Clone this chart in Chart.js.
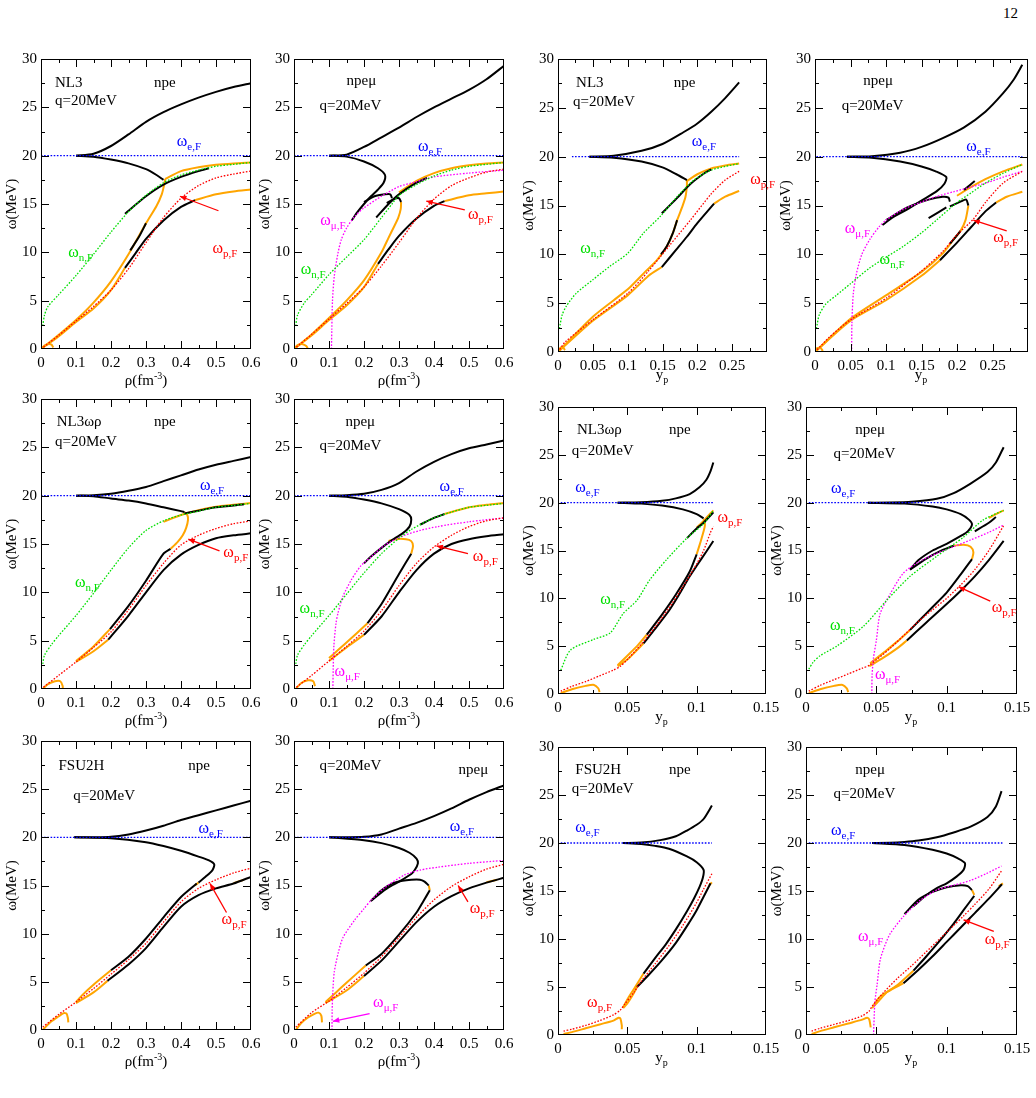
<!DOCTYPE html>
<html><head><meta charset="utf-8">
<script src="https://cdn.jsdelivr.net/npm/chart.js@4.4.1/dist/chart.umd.min.js"></script>
<style>
html,body{margin:0;padding:0;background:#fff;width:1036px;height:1098px;overflow:hidden;position:relative}
canvas{position:absolute}
#pg{position:absolute;left:1003px;top:5px;font:15px "Liberation Serif",serif;color:#000}
</style></head><body>
<div id="pg">12</div>
<script>
// ---------- Panel 1: NL3 npe vs rho ----------
const p1_eF=[[0,20],[0.6,20]];
const p1_nF=[[0.005,2.4],[0.01,3.5],[0.02,4.4],[0.05,5.6],[0.1,7.6],[0.15,9.8],[0.2,12.1],[0.25,14.2],[0.3,15.9],[0.35,17.2],[0.4,18.0],[0.45,18.5],[0.5,18.9],[0.55,19.1],[0.6,19.3]];
const p1_pF=[[0,0],[0.05,1.4],[0.1,2.9],[0.15,4.4],[0.2,6.1],[0.25,8.3],[0.3,11.0],[0.35,13.6],[0.4,15.6],[0.45,16.9],[0.5,17.7],[0.55,18.1],[0.6,18.4]];
const p1_up=[[0.1,20],[0.15,20.2],[0.2,21.0],[0.25,22.2],[0.3,23.5],[0.35,24.5],[0.4,25.3],[0.45,26.0],[0.5,26.6],[0.55,27.1],[0.6,27.5]];
const p1_low=[[0.1,20],[0.15,19.9],[0.2,19.6],[0.25,19.2],[0.3,18.6],[0.33,18.0],[0.35,17.5]];
const p1_midOr=[[0,0],[0.05,1.45],[0.1,3.0],[0.15,4.8],[0.2,7.0],[0.25,9.8],[0.3,13.0],[0.33,14.8],[0.345,16.0],[0.352,17.0],[0.355,17.6]];
const p1_midBk=[[0.255,10.2],[0.28,11.6],[0.3,13.0]];
const p1_lowOr=[[0,0],[0.05,1.3],[0.1,2.8],[0.15,4.2],[0.2,6.1],[0.24,8.4]];
const p1_bot=[[0.24,8.4],[0.27,9.9],[0.3,11.4],[0.35,13.3],[0.4,14.7],[0.44,15.4]];
const p1_botOr=[[0.44,15.4],[0.5,16.0],[0.55,16.3],[0.6,16.5]];
const p1_topBk=[[0.24,14.0],[0.3,15.8],[0.35,17.0],[0.4,17.8],[0.45,18.4],[0.48,18.7]];
const p1_topOr=[[0.355,17.6],[0.4,18.4],[0.45,18.8],[0.5,19.05],[0.55,19.2],[0.6,19.3]];
const p1_arc=[[0,0],[0.01,0.35],[0.02,0.5],[0.03,0.45],[0.035,0.15]];
const p1_txt=[['NL3',0.04,27.5],['npe',0.323,27.5],['q=20MeV',0.04,25.6]];
const p1_om=[['e,F','b',0.388,21.4],['n,F','g',0.078,9.9],['p,F','r',0.49,10.3]];
const p1_arr=[['r',0.507,14.3,0.397,15.8]];

// ---------- Panel 2: NL3 npemu vs rho ----------
const p2_eF=[[0,20],[0.6,20]];
const p2_nF=[[0.005,2.4],[0.01,3.5],[0.03,4.8],[0.05,5.6],[0.1,7.7],[0.15,9.5],[0.2,11.3],[0.25,13.6],[0.28,15.0],[0.3,15.9],[0.35,17.0],[0.4,17.9],[0.45,18.5],[0.5,18.9],[0.55,19.1],[0.6,19.3]];
const p2_pF=[[0,0],[0.05,1.5],[0.1,3.1],[0.15,4.7],[0.2,6.4],[0.25,8.6],[0.3,11.0],[0.35,13.5],[0.4,15.5],[0.45,16.9],[0.5,17.7],[0.55,18.3],[0.6,18.6]];
const p2_muF=[[0.107,0],[0.108,2],[0.11,5],[0.115,7.5],[0.125,9.8],[0.135,11.3],[0.15,12.5],[0.173,13.7],[0.2,14.6],[0.25,15.8],[0.3,16.8],[0.35,17.3],[0.4,17.8],[0.5,18.2],[0.6,18.5]];
const p2_up=[[0.1,20],[0.15,20.1],[0.2,20.9],[0.25,21.9],[0.3,22.9],[0.35,24.0],[0.4,25.0],[0.45,25.9],[0.5,26.8],[0.55,27.9],[0.6,29.3]];
const p2_low=[[0.1,20],[0.15,19.9],[0.2,19.4],[0.24,18.7],[0.26,18.0],[0.256,17.2],[0.24,16.5],[0.22,15.8],[0.2,15.0],[0.18,14.1],[0.165,13.3]];
const p2_loop1=[[0.2,15.2],[0.23,15.8],[0.26,16.0],[0.275,16.0],[0.28,15.6]];
const p2_loop2=[[0.265,15.1],[0.285,15.5],[0.3,15.6],[0.306,15.2]];
const p2_midOr=[[0,0],[0.05,1.5],[0.1,3.2],[0.15,5.0],[0.2,7.1],[0.25,10.0],[0.27,11.5],[0.285,12.6],[0.298,13.6],[0.305,14.5],[0.306,15.2]];
const p2_lowOr=[[0,0],[0.05,1.4],[0.1,3.0],[0.15,4.5],[0.2,6.4],[0.24,8.8]];
const p2_bot=[[0.24,8.8],[0.27,10.3],[0.3,11.7],[0.35,13.5],[0.4,14.8],[0.43,15.3]];
const p2_botOr=[[0.43,15.3],[0.5,15.9],[0.55,16.1],[0.6,16.3]];
const p2_topBk=[[0.235,13.6],[0.27,15.0],[0.3,16.0],[0.35,17.2],[0.38,17.7]];
const p2_topOr=[[0.3,16.2],[0.35,17.4],[0.4,18.2],[0.45,18.7],[0.5,19.0],[0.55,19.2],[0.6,19.3]];
const p2_arc=[[0,0],[0.01,0.4],[0.025,0.5],[0.035,0.3],[0.04,0]];
const p2_txt=[['npeμ',0.15,27.7],['q=20MeV',0.073,25.1]];
const p2_om=[['e,F','b',0.354,20.9],['μ,F','m',0.075,13.2],['n,F','g',0.019,8.2],['p,F','r',0.497,13.9]];
const p2_arr=[['r',0.488,14.4,0.378,15.3]];

// ---------- Panel 3: NL3 npe vs y_p ----------
const p3_eF=[[0.02,20],[0.26,20]];
const p3_nF=[[0.002,2.4],[0.006,3.8],[0.012,4.7],[0.026,6.0],[0.05,7.4],[0.075,8.8],[0.1,10.1],[0.123,12.2],[0.147,13.9],[0.171,15.9],[0.195,17.6],[0.219,18.6],[0.24,19.0],[0.26,19.3]];
const p3_pF=[[0,0],[0.01,1.0],[0.05,3.3],[0.1,6.0],[0.13,8.3],[0.16,10.9],[0.19,13.5],[0.22,16.2],[0.24,17.6],[0.26,18.5]];
const p3_up=[[0.045,20],[0.08,20.1],[0.12,20.6],[0.15,21.3],[0.18,22.5],[0.2,23.4],[0.22,24.6],[0.24,26.0],[0.26,27.6]];
const p3_low=[[0.045,20],[0.08,19.9],[0.12,19.5],[0.15,18.9],[0.17,18.2],[0.185,17.6]];
const p3_midOr=[[0,0],[0.05,3.6],[0.08,5.3],[0.103,6.6],[0.125,8.2],[0.142,9.4],[0.156,10.8],[0.165,12.2],[0.171,13.5],[0.178,14.8],[0.183,15.9],[0.185,17.0],[0.185,17.6]];
const p3_midBk=[[0.148,10.0],[0.156,10.8],[0.165,12.2],[0.171,13.5]];
const p3_lowOr=[[0,0],[0.05,3.2],[0.1,5.8],[0.13,7.8],[0.149,8.7]];
const p3_bot=[[0.149,8.7],[0.17,10.5],[0.185,11.8],[0.2,13.2],[0.224,15.2]];
const p3_botOr=[[0.224,15.2],[0.24,15.9],[0.26,16.5]];
const p3_topBk=[[0.149,14.2],[0.17,15.7],[0.19,17.2],[0.21,18.3],[0.22,18.7]];
const p3_topOr=[[0.185,17.5],[0.2,18.2],[0.22,18.8],[0.24,19.1],[0.26,19.3]];
const p3_arc=[[0,0],[0.003,0.4],[0.007,0.5],[0.01,0.2]];
const p3_txt=[['NL3',0.026,27.5],['npe',0.166,27.5],['q=20MeV',0.0216,25.6]];
const p3_om=[['e,F','b',0.192,21.5],['p,F','r',0.276,17.6],['n,F','g',0.032,10.5]];
const p3_arr=[];

// ---------- Panel 4: NL3 npemu vs y_p ----------
const p4_eF=[[0.002,20],[0.292,20]];
const p4_nF=[[0.002,2.4],[0.006,3.8],[0.015,4.9],[0.03,5.8],[0.05,7.0],[0.077,8.6],[0.1,9.7],[0.124,10.8],[0.15,12.2],[0.171,13.5],[0.2,15.3],[0.22,16.3],[0.24,17.3],[0.265,18.3],[0.292,19.2]];
const p4_pF=[[0,0],[0.02,1.5],[0.05,3.3],[0.1,5.5],[0.15,8.3],[0.18,10.3],[0.2,12.0],[0.223,13.6],[0.241,15.4],[0.265,17.3],[0.292,18.5]];
const p4_muF=[[0.0516,0],[0.052,3],[0.054,6],[0.0586,8.1],[0.066,10.0],[0.077,11.5],[0.09,12.8],[0.1,13.5],[0.124,14.6],[0.148,15.3],[0.17,15.9],[0.195,16.4],[0.22,16.9],[0.241,17.3],[0.265,17.9],[0.292,18.5]];
const p4_up=[[0.045,20],[0.08,20.05],[0.12,20.4],[0.15,21.0],[0.18,21.9],[0.21,23.0],[0.24,24.6],[0.265,26.5],[0.28,27.9],[0.292,29.4]];
const p4_low=[[0.045,20],[0.08,19.9],[0.12,19.5],[0.15,19.0],[0.17,18.5],[0.185,17.9],[0.182,17.2],[0.172,16.5],[0.15,15.5],[0.13,14.6],[0.11,13.8],[0.095,13.0]];
const p4_loop1=[[0.1,13.5],[0.13,14.8],[0.16,15.6],[0.18,15.9],[0.188,15.8],[0.19,15.4]];
const p4_loop2=[[0.19,14.9],[0.205,15.4],[0.213,15.6],[0.216,15.0]];
const p4_midOr=[[0,0],[0.05,3.4],[0.1,5.8],[0.15,8.2],[0.18,10.1],[0.195,11.5],[0.205,12.4],[0.212,13.5],[0.216,15.0]];
const p4_midBk=[[0.19,11.1],[0.195,11.5],[0.205,12.4]];
const p4_lowOr=[[0,0],[0.05,3.2],[0.1,5.3],[0.15,7.8],[0.176,9.4]];
const p4_bot=[[0.176,9.4],[0.2,11.2],[0.22,12.8],[0.24,14.4],[0.255,15.3]];
const p4_botOr=[[0.255,15.3],[0.27,15.9],[0.292,16.4]];
const p4_topBk=[[0.16,13.7],[0.185,14.8]];
const p4_topBk2=[[0.21,16.6],[0.225,17.5]];
const p4_topOr=[[0.2,16.0],[0.22,16.9],[0.24,17.7],[0.265,18.5],[0.292,19.2]];
const p4_arc=[[0,0],[0.003,0.4],[0.008,0.4],[0.011,0.1]];
const p4_txt=[['npeμ',0.068,27.7],['q=20MeV',0.0375,25.2]];
const p4_om=[['e,F','b',0.213,21.0],['μ,F','m',0.042,12.6],['n,F','g',0.091,9.4],['p,F','r',0.251,11.7]];
const p4_arr=[['r',0.27,12.4,0.223,13.5]];

// ---------- Panel 5: NL3wr npe vs rho ----------
const p5_eF=[[0,20],[0.6,20]];
const p5_nF=[[0.005,2.6],[0.01,3.5],[0.03,4.6],[0.05,5.5],[0.1,7.6],[0.15,9.9],[0.2,12.3],[0.25,14.6],[0.3,16.4],[0.35,17.4],[0.4,18.0],[0.45,18.4],[0.5,18.8],[0.55,19.0],[0.6,19.2]];
const p5_pF=[[0,0],[0.05,1.4],[0.1,2.8],[0.15,4.3],[0.2,5.9],[0.25,8.2],[0.3,10.7],[0.35,13.0],[0.4,14.9],[0.45,15.9],[0.5,16.6],[0.55,17.1],[0.6,17.4]];
const p5_up=[[0.1,20],[0.15,20.05],[0.2,20.2],[0.25,20.5],[0.3,20.9],[0.35,21.5],[0.4,22.1],[0.45,22.7],[0.5,23.2],[0.55,23.6],[0.6,24.0]];
const p5_low=[[0.1,20],[0.15,19.95],[0.2,19.7],[0.25,19.5],[0.3,19.2],[0.35,18.8],[0.4,18.4],[0.41,18.3]];
const p5_midOr1=[[0.1,2.9],[0.15,4.4],[0.197,6.2]];
const p5_midBk=[[0.197,6.2],[0.25,8.6],[0.3,11.2],[0.35,14.0],[0.37,14.5]];
const p5_midOr2=[[0.37,14.5],[0.39,15.2],[0.405,15.9],[0.415,16.7],[0.42,17.5],[0.418,18.0],[0.41,18.3]];
const p5_lowOr=[[0.1,2.8],[0.15,3.9],[0.192,5.1]];
const p5_bot=[[0.192,5.1],[0.25,7.6],[0.3,10.0],[0.35,12.3],[0.4,13.9],[0.45,14.9],[0.5,15.6],[0.55,15.9],[0.6,16.1]];
const p5_topOr=[[0.35,17.3],[0.4,18.0],[0.45,18.5],[0.5,18.85],[0.55,19.05],[0.6,19.25]];
const p5_topBk=[[0.41,18.15],[0.45,18.45],[0.5,18.8],[0.58,19.1]];
const p5_arc=[[0.005,0],[0.02,0.5],[0.04,0.8],[0.055,0.8],[0.062,0.3],[0.062,0]];
const p5_txt=[['NL3ωρ',0.045,27.6],['npe',0.323,27.6],['q=20MeV',0.04,25.5]];
const p5_om=[['e,F','b',0.454,21.0],['n,F','g',0.097,11.0],['p,F','r',0.521,14.05]];
const p5_arr=[['r',0.51,14.3,0.421,15.5]];

// ---------- Panel 6: NL3wr npemu vs rho ----------
const p6_eF=[[0,20],[0.6,20]];
const p6_nF=[[0.005,2.6],[0.01,3.5],[0.03,4.6],[0.05,5.5],[0.1,7.6],[0.15,9.8],[0.2,12.0],[0.25,14.0],[0.3,15.6],[0.335,16.5],[0.4,17.7],[0.45,18.3],[0.5,18.8],[0.55,19.0],[0.6,19.2]];
const p6_pF=[[0,0],[0.05,1.4],[0.1,2.9],[0.15,4.4],[0.2,6.0],[0.25,8.1],[0.3,10.7],[0.35,13.0],[0.4,14.7],[0.45,15.9],[0.5,16.8],[0.55,17.4],[0.6,17.7]];
const p6_muF=[[0.111,0],[0.112,2],[0.114,4.5],[0.12,6.8],[0.126,7.9],[0.14,9.6],[0.164,11.3],[0.19,12.7],[0.221,13.7],[0.26,14.9],[0.316,15.9],[0.36,16.4],[0.41,16.8],[0.5,17.3],[0.6,17.7]];
const p6_up=[[0.1,20],[0.15,20.05],[0.2,20.2],[0.25,20.6],[0.3,21.3],[0.35,22.5],[0.4,23.5],[0.45,24.3],[0.5,24.9],[0.55,25.3],[0.6,25.7]];
const p6_low=[[0.1,20],[0.15,19.9],[0.2,19.6],[0.25,19.2],[0.3,18.6],[0.33,18.0],[0.335,17.5],[0.33,16.8],[0.31,16.1],[0.28,15.4],[0.25,14.6],[0.22,13.7],[0.2,13.0]];
const p6_midOr1=[[0.1,3.2],[0.15,4.8],[0.21,6.8]];
const p6_midBk=[[0.21,6.8],[0.25,8.8],[0.3,11.9],[0.335,14.0]];
const p6_midOr2=[[0.335,14.0],[0.34,14.8],[0.335,15.3],[0.32,15.5],[0.29,15.5],[0.27,15.3]];
const p6_lowOr=[[0.1,2.9],[0.15,4.3],[0.2,5.6]];
const p6_bot=[[0.2,5.6],[0.25,7.5],[0.3,10.0],[0.35,12.3],[0.4,14.0],[0.45,15.0],[0.5,15.5],[0.55,15.8],[0.6,16.0]];
const p6_topBk=[[0.36,17.0],[0.4,17.7],[0.43,18.1]];
const p6_topOr=[[0.43,18.1],[0.5,18.8],[0.55,19.05],[0.6,19.25]];
const p6_arc=[[0.005,0],[0.02,0.6],[0.04,0.9],[0.055,0.8],[0.06,0.3]];
const p6_txt=[['npeμ',0.147,27.6],['q=20MeV',0.073,25.1]];
const p6_om=[['e,F','b',0.416,20.9],['n,F','g',0.016,8.3],['μ,F','m',0.116,1.8],['p,F','r',0.511,13.7]];
const p6_arr=[['r',0.497,14.0,0.407,14.8]];

// ---------- Panel 7: NL3wr npe vs y_p ----------
const p7_eF=[[0.002,20],[0.112,20]];
const p7_nF=[[0.002,2.5],[0.009,4.6],[0.0257,5.7],[0.0377,6.4],[0.047,8.4],[0.057,9.8],[0.066,11.9],[0.078,14.0],[0.093,16.3],[0.105,17.8],[0.112,19.2]];
const p7_pF=[[0.002,0.3],[0.01,0.8],[0.02,1.3],[0.03,1.9],[0.04,2.5],[0.045,2.9],[0.05,3.6],[0.06,5.2],[0.07,7.0],[0.08,9.0],[0.09,11.2],[0.1,13.6],[0.105,15.0],[0.11,16.9],[0.112,17.5]];
const p7_up=[[0.043,20],[0.06,20.05],[0.075,20.2],[0.085,20.45],[0.095,20.9],[0.102,21.6],[0.107,22.4],[0.11,23.3],[0.112,24.2]];
const p7_low=[[0.043,20],[0.06,19.9],[0.075,19.7],[0.09,19.3],[0.1,18.8],[0.105,18.35]];
const p7_midOr1=[[0.043,3.0],[0.05,4.0],[0.057,5.0],[0.064,6.2]];
const p7_midBk=[[0.064,6.2],[0.075,8.3],[0.085,10.4],[0.095,12.8],[0.1,14.6]];
const p7_midOr2=[[0.1,14.6],[0.103,16.0],[0.105,17.0],[0.106,17.7],[0.105,18.3]];
const p7_lowOr=[[0.043,2.9],[0.05,3.6],[0.055,4.3],[0.0617,5.3]];
const p7_bot=[[0.0617,5.3],[0.07,6.8],[0.08,8.7],[0.0857,10.0],[0.095,12.3],[0.1,13.4],[0.107,14.9],[0.112,16.0]];
const p7_topBk=[[0.093,16.3],[0.1,17.3],[0.105,17.9],[0.112,19.0]];
const p7_topOr=[[0.1,17.4],[0.105,18.1],[0.112,19.2]];
const p7_arc=[[0.002,0.1],[0.01,0.5],[0.02,0.85],[0.026,0.95],[0.029,0.6],[0.03,0.2]];
const p7_txt=[['NL3ωρ',0.0137,27.6],['npe',0.08,27.6],['q=20MeV',0.01,25.4]];
const p7_om=[['e,F','b',0.0125,21.5],['p,F','r',0.115,18.35],['n,F','g',0.0305,9.8]];
const p7_arr=[];

// ---------- Panel 8: NL3wr npemu vs y_p ----------
const p8_eF=[[0.002,20],[0.1405,20]];
const p8_nF=[[0.002,2.6],[0.005,3.3],[0.01,4.0],[0.0218,5.0],[0.041,7.1],[0.0574,9.8],[0.074,12.3],[0.093,14.4],[0.112,16.4],[0.126,18.2],[0.1405,19.2]];
const p8_pF=[[0.002,0.3],[0.01,0.9],[0.02,1.5],[0.03,2.1],[0.04,2.7],[0.045,3.0],[0.06,4.8],[0.07,6.2],[0.08,7.6],[0.09,8.8],[0.1,10.0],[0.11,11.4],[0.12,13.0],[0.13,15.0],[0.1405,17.6]];
const p8_muF=[[0.0468,0],[0.047,2],[0.048,3.8],[0.05,5.6],[0.0527,8.4],[0.06,10.5],[0.069,12.6],[0.08,13.8],[0.093,14.7],[0.105,15.4],[0.117,16.1],[0.13,16.9],[0.1405,17.66]];
const p8_up=[[0.044,20],[0.06,20.02],[0.075,20.1],[0.093,20.4],[0.105,21.0],[0.117,22.0],[0.129,23.2],[0.135,24.2],[0.1405,25.8]];
const p8_low=[[0.044,20],[0.07,19.9],[0.09,19.6],[0.1,19.3],[0.11,18.8],[0.116,18.2],[0.118,17.7],[0.115,17.0],[0.111,16.6],[0.1,15.7],[0.09,15.0],[0.08,14.0],[0.074,13.0]];
const p8_loop=[[0.074,13.0],[0.085,14.1],[0.095,14.9],[0.105,15.5]];
const p8_loopOr=[[0.105,15.5],[0.112,15.6],[0.117,15.4],[0.119,14.8],[0.118,14.1]];
const p8_midBk=[[0.118,14.1],[0.11,12.5],[0.1,10.6],[0.09,9.1],[0.08,7.6],[0.074,6.7]];
const p8_midOr=[[0.074,6.7],[0.065,5.5],[0.055,4.3],[0.0456,3.2]];
const p8_lowOr=[[0.045,2.9],[0.055,3.8],[0.065,4.8],[0.0717,5.6]];
const p8_bot=[[0.0717,5.6],[0.085,7.4],[0.1,9.4],[0.11,10.8],[0.12,12.3],[0.13,14.0],[0.1405,16.0]];
const p8_topBk=[[0.12,17.0],[0.13,17.9],[0.135,18.5]];
const p8_topOr=[[0.13,18.4],[0.135,18.8],[0.1405,19.2]];
const p8_arc=[[0.002,0.1],[0.01,0.5],[0.02,0.85],[0.026,0.95],[0.029,0.6],[0.03,0.2]];
const p8_txt=[['npeμ',0.035,27.6],['q=20MeV',0.0195,25.1]];
const p8_om=[['e,F','b',0.0178,21.4],['n,F','g',0.017,7.1],['μ,F','m',0.049,2.0],['p,F','r',0.132,9.0]];
const p8_arr=[['r',0.131,9.7,0.1085,11.2]];

// ---------- Panel 9: FSU2H npe vs rho ----------
const p9_eF=[[0,20],[0.6,20]];
const p9_pF=[[0.005,0.3],[0.05,1.6],[0.1,2.9],[0.15,4.3],[0.2,5.8],[0.25,7.3],[0.3,9.0],[0.35,11.2],[0.4,13.3],[0.45,14.7],[0.5,15.6],[0.55,16.3],[0.6,16.8]];
const p9_up=[[0.095,20],[0.15,20.0],[0.2,20.05],[0.25,20.3],[0.3,20.7],[0.35,21.2],[0.4,21.8],[0.45,22.3],[0.5,22.8],[0.55,23.3],[0.6,23.8]];
const p9_low=[[0.095,20],[0.2,19.9],[0.3,19.5],[0.35,19.1],[0.4,18.6],[0.45,18.0],[0.48,17.6],[0.495,17.2],[0.49,16.6],[0.47,15.9],[0.45,15.3]];
const p9_midBk=[[0.445,15.2],[0.4,13.8],[0.35,11.7],[0.3,9.5],[0.25,7.6],[0.2,6.2]];
const p9_midOr1=[[0.1,2.9],[0.12,3.7],[0.15,4.7],[0.2,6.2]];
const p9_midOr2=[[0.45,15.3],[0.44,15.0]];
const p9_lowOr=[[0.1,2.8],[0.15,3.9],[0.19,5.1]];
const p9_bot=[[0.19,5.1],[0.25,6.8],[0.3,8.5],[0.35,10.7],[0.4,12.8],[0.45,14.0],[0.5,14.7],[0.55,15.2],[0.6,15.9]];
const p9_botOr=[[0.55,15.25],[0.58,15.6]];
const p9_arc=[[0.005,0],[0.01,0.2],[0.03,0.9],[0.05,1.4],[0.065,1.75],[0.073,1.7],[0.077,1.2],[0.078,0.8]];
const p9_txt=[['FSU2H',0.05,27.4],['npe',0.421,27.4],['q=20MeV',0.092,24.3]];
const p9_om=[['e,F','b',0.45,20.9],['p,F','r',0.516,11.4]];
const p9_arr=[['r',0.53,12.2,0.483,15.2]];

// ---------- Panel 10: FSU2H npemu vs rho ----------
const p10_eF=[[0,20],[0.6,20]];
const p10_pF=[[0.005,0.3],[0.05,1.8],[0.1,3.0],[0.15,4.4],[0.2,5.9],[0.25,7.6],[0.3,9.6],[0.35,11.7],[0.4,13.5],[0.45,14.9],[0.5,15.9],[0.55,16.7],[0.6,17.2]];
const p10_muF=[[0.1086,0],[0.109,2],[0.111,4],[0.115,6],[0.126,7.95],[0.14,9.6],[0.173,11.4],[0.2,12.6],[0.221,13.5],[0.26,14.8],[0.316,16.1],[0.36,16.6],[0.411,16.9],[0.5,17.3],[0.6,17.6]];
const p10_up=[[0.1,20],[0.15,20.0],[0.2,20.05],[0.25,20.3],[0.3,20.9],[0.35,21.5],[0.4,22.2],[0.45,23.0],[0.5,23.9],[0.55,24.7],[0.6,25.4]];
const p10_low=[[0.1,20],[0.2,19.7],[0.25,19.4],[0.3,18.9],[0.33,18.4],[0.35,17.8],[0.354,17.3],[0.345,16.6],[0.335,16.2],[0.3,15.4],[0.27,14.8],[0.24,14.0],[0.22,13.4]];
const p10_loop=[[0.22,13.4],[0.25,14.5],[0.28,15.2],[0.31,15.5],[0.335,15.6],[0.36,15.6],[0.373,15.4],[0.385,15.0]];
const p10_loopOr=[[0.385,15.0],[0.388,14.5]];
const p10_midBk=[[0.388,14.5],[0.37,13.4],[0.35,12.2],[0.3,9.9],[0.25,7.9],[0.205,6.7]];
const p10_midOr1=[[0.09,2.9],[0.12,3.9],[0.15,4.9],[0.205,6.7]];
const p10_lowOr=[[0.09,2.8],[0.15,4.1],[0.2,5.6]];
const p10_bot=[[0.2,5.6],[0.25,7.2],[0.3,9.2],[0.35,11.2],[0.4,12.8],[0.45,13.9],[0.5,14.7],[0.55,15.3],[0.6,15.8]];
const p10_botOr=[[0.55,15.35],[0.58,15.6]];
const p10_arc=[[0.005,0],[0.02,0.7],[0.04,1.3],[0.06,1.7],[0.07,1.8],[0.078,1.5],[0.08,0.8]];
const p10_txt=[['q=20MeV',0.073,27.4],['npeμ',0.47,27.0]];
const p10_om=[['e,F','b',0.445,21.1],['p,F','r',0.502,12.6],['μ,F','m',0.226,2.8]];
const p10_arr=[['r',0.497,13.3,0.469,15.0],['m',0.216,1.7,0.111,0.9]];

// ---------- Panel 11: FSU2H npe vs y_p ----------
const p11_eF=[[0.002,20],[0.111,20]];
const p11_pF=[[0.004,0.4],[0.01,0.6],[0.02,1.0],[0.03,1.5],[0.04,2.1],[0.045,2.6],[0.048,3.2],[0.055,4.5],[0.06,5.6],[0.07,7.4],[0.08,9.3],[0.09,11.4],[0.1,13.8],[0.105,15.2],[0.111,16.8]];
const p11_up=[[0.047,20],[0.06,20.05],[0.0737,20.3],[0.085,20.7],[0.093,21.3],[0.1,21.9],[0.105,22.5],[0.111,23.9]];
const p11_low=[[0.047,20],[0.06,19.9],[0.07,19.7],[0.08,19.4],[0.093,18.6],[0.1,18.0],[0.105,17.2],[0.1045,16.4],[0.102,15.4],[0.098,14.2],[0.093,12.9],[0.085,11.0],[0.078,9.5],[0.07,8.0],[0.0617,6.4]];
const p11_midOr=[[0.0617,6.4],[0.057,5.3],[0.053,4.4],[0.05,3.7],[0.047,2.9]];
const p11_lowOr=[[0.047,2.8],[0.05,3.3],[0.054,4.2],[0.057,5.0]];
const p11_bot=[[0.057,5.0],[0.065,6.2],[0.075,7.8],[0.085,9.6],[0.095,11.8],[0.1,13.0],[0.105,14.4],[0.11,15.8]];
const p11_tipOr=[[0.109,15.6],[0.111,15.9]];
const p11_arc=[[0.004,0.1],[0.01,0.3],[0.02,0.7],[0.03,1.1],[0.04,1.5],[0.0437,1.8],[0.045,1.7],[0.046,1.0],[0.046,0.6]];
const p11_txt=[['FSU2H',0.0125,27.6],['npe',0.08,27.6],['q=20MeV',0.01,25.6]];
const p11_om=[['e,F','b',0.0125,21.55],['p,F','r',0.021,3.3]];
const p11_arr=[];

// ---------- Panel 12: FSU2H npemu vs y_p ----------
const p12_eF=[[0.002,20],[0.14,20]];
const p12_pF=[[0.004,0.4],[0.01,0.7],[0.02,1.1],[0.03,1.5],[0.04,2.0],[0.045,2.5],[0.047,3.0],[0.055,4.4],[0.065,5.9],[0.075,7.2],[0.085,8.6],[0.095,10.0],[0.105,11.4],[0.112,12.4],[0.12,13.6],[0.13,15.2],[0.139,17.1]];
const p12_muF=[[0.048,0],[0.0485,2],[0.049,3.5],[0.0505,5.2],[0.0527,7.8],[0.056,9.3],[0.06,10.6],[0.069,12.3],[0.081,14.0],[0.093,15.1],[0.105,15.6],[0.117,16.1],[0.128,16.8],[0.139,17.6]];
const p12_up=[[0.047,20],[0.06,20.02],[0.07,20.1],[0.08,20.25],[0.093,20.6],[0.105,21.1],[0.117,21.7],[0.129,22.7],[0.135,23.8],[0.139,25.4]];
const p12_low=[[0.047,20],[0.07,19.8],[0.09,19.3],[0.1,18.9],[0.108,18.4],[0.113,17.9],[0.112,17.2],[0.107,16.5],[0.1,15.8],[0.093,15.3],[0.085,14.5],[0.0764,13.4]];
const p12_loop=[[0.07,12.6],[0.08,14.1],[0.09,14.9],[0.1,15.4],[0.11,15.6],[0.115,15.5],[0.118,15.1]];
const p12_loopOr=[[0.118,15.1],[0.1196,14.6]];
const p12_midBk=[[0.1196,14.5],[0.112,13.0],[0.105,11.6],[0.095,9.8],[0.085,8.1],[0.0764,6.7]];
const p12_midOr=[[0.0764,6.7],[0.065,5.2],[0.0527,4.0],[0.048,3.1]];
const p12_lowOr=[[0.047,2.8],[0.052,3.6],[0.058,4.5],[0.0693,5.4]];
const p12_bot=[[0.0693,5.4],[0.08,6.8],[0.09,8.2],[0.1,9.7],[0.11,11.2],[0.12,12.7],[0.13,14.2],[0.1393,15.7]];
const p12_botOr=[[0.137,15.5],[0.14,15.8]];
const p12_arc=[[0.004,0.1],[0.01,0.4],[0.02,0.8],[0.03,1.2],[0.04,1.6],[0.0435,1.8],[0.045,1.6],[0.046,0.8]];
const p12_txt=[['npeμ',0.035,27.6],['q=20MeV',0.0195,25.1]];
const p12_om=[['e,F','b',0.0178,21.2],['μ,F','m',0.037,10.2],['p,F','r',0.127,9.9]];
const p12_arr=[['r',0.1335,10.8,0.112,12.0]];

// ---------- axis tick settings: [min, max, major, minor] ----------
const yTicks=[0,30,5,2.5];
const rhoTicks=[0,0.6,0.1,0.05];
const yp3Ticks=[0,0.3,0.05,0.025];
const yp15Ticks=[0,0.15,0.05,0.025];

const COL={k:'#000000',o:'#FFA500',b:'#0000FF',g:'#00E000',r:'#FF0000',m:'#FF00FF'};
const FONT='"Liberation Serif","Times New Roman",serif';

const PANELS=[
 {box:[41,59,251,349],xt:rhoTicks,xl:'rho',S:[['b',p1_eF],['g',p1_nF],['r',p1_pF],['k',p1_up],['k',p1_low],['k',p1_midBk],['k',p1_bot],['k',p1_topBk],['o',p1_midOr],['o',p1_lowOr],['o',p1_botOr],['o',p1_topOr],['o',p1_arc]],T:p1_txt,W:p1_om,A:p1_arr},
 {box:[294,59,504,349],xt:rhoTicks,xl:'rho',S:[['b',p2_eF],['g',p2_nF],['r',p2_pF],['m',p2_muF],['k',p2_up],['k',p2_low],['k',p2_loop1],['k',p2_loop2],['k',p2_bot],['k',p2_topBk],['o',p2_midOr],['o',p2_lowOr],['o',p2_botOr],['o',p2_topOr],['o',p2_arc]],T:p2_txt,W:p2_om,A:p2_arr},
 {box:[558,59,767,352],xt:yp3Ticks,hide:0.3,xl:'yp',S:[['b',p3_eF],['g',p3_nF],['r',p3_pF],['k',p3_up],['k',p3_low],['k',p3_midBk],['k',p3_bot],['k',p3_topBk],['o',p3_midOr],['o',p3_lowOr],['o',p3_botOr],['o',p3_topOr],['o',p3_arc]],T:p3_txt,W:p3_om,A:p3_arr},
 {box:[815,59,1028,352],xt:yp3Ticks,hide:0.3,xl:'yp',S:[['b',p4_eF],['g',p4_nF],['r',p4_pF],['m',p4_muF],['k',p4_up],['k',p4_low],['k',p4_loop1],['k',p4_loop2],['k',p4_midBk],['k',p4_bot],['k',p4_topBk],['k',p4_topBk2],['o',p4_midOr],['o',p4_lowOr],['o',p4_botOr],['o',p4_topOr],['o',p4_arc]],T:p4_txt,W:p4_om,A:p4_arr},
 {box:[41,399,251,689],xt:rhoTicks,xl:'rho',S:[['b',p5_eF],['g',p5_nF],['r',p5_pF],['k',p5_up],['k',p5_low],['k',p5_midBk],['k',p5_bot],['k',p5_topBk],['o',p5_midOr1],['o',p5_midOr2],['o',p5_lowOr],['o',p5_topOr],['o',p5_arc]],T:p5_txt,W:p5_om,A:p5_arr},
 {box:[294,399,504,689],xt:rhoTicks,xl:'rho',S:[['b',p6_eF],['g',p6_nF],['r',p6_pF],['m',p6_muF],['k',p6_up],['k',p6_low],['k',p6_midBk],['k',p6_bot],['k',p6_topBk],['o',p6_midOr1],['o',p6_midOr2],['o',p6_lowOr],['o',p6_topOr],['o',p6_arc]],T:p6_txt,W:p6_om,A:p6_arr},
 {box:[558,407,766,694],xt:yp15Ticks,xl:'yp',S:[['b',p7_eF],['g',p7_nF],['r',p7_pF],['k',p7_up],['k',p7_low],['k',p7_midBk],['k',p7_bot],['k',p7_topBk],['o',p7_midOr1],['o',p7_midOr2],['o',p7_lowOr],['o',p7_topOr],['o',p7_arc]],T:p7_txt,W:p7_om,A:p7_arr},
 {box:[806,407,1017,694],xt:yp15Ticks,xl:'yp',S:[['b',p8_eF],['g',p8_nF],['r',p8_pF],['m',p8_muF],['k',p8_up],['k',p8_low],['k',p8_loop],['k',p8_midBk],['k',p8_bot],['k',p8_topBk],['o',p8_loopOr],['o',p8_midOr],['o',p8_lowOr],['o',p8_topOr],['o',p8_arc]],T:p8_txt,W:p8_om,A:p8_arr},
 {box:[41,741,251,1030],xt:rhoTicks,xl:'rho',S:[['b',p9_eF],['r',p9_pF],['k',p9_up],['k',p9_low],['k',p9_midBk],['k',p9_bot],['o',p9_midOr1],['o',p9_midOr2],['o',p9_lowOr],['o',p9_botOr],['o',p9_arc]],T:p9_txt,W:p9_om,A:p9_arr},
 {box:[294,741,504,1030],xt:rhoTicks,xl:'rho',S:[['b',p10_eF],['r',p10_pF],['m',p10_muF],['k',p10_up],['k',p10_low],['k',p10_loop],['k',p10_midBk],['k',p10_bot],['o',p10_loopOr],['o',p10_midOr1],['o',p10_lowOr],['o',p10_botOr],['o',p10_arc]],T:p10_txt,W:p10_om,A:p10_arr},
 {box:[558,747,766,1035],xt:yp15Ticks,xl:'yp',S:[['b',p11_eF],['r',p11_pF],['k',p11_up],['k',p11_low],['k',p11_bot],['o',p11_midOr],['o',p11_lowOr],['o',p11_tipOr],['o',p11_arc]],T:p11_txt,W:p11_om,A:p11_arr},
 {box:[806,747,1017,1035],xt:yp15Ticks,xl:'yp',S:[['b',p12_eF],['r',p12_pF],['m',p12_muF],['k',p12_up],['k',p12_low],['k',p12_loop],['k',p12_midBk],['k',p12_bot],['o',p12_loopOr],['o',p12_midOr],['o',p12_lowOr],['o',p12_botOr],['o',p12_arc]],T:p12_txt,W:p12_om,A:p12_arr}
];

function styleFor(k){
  const dotted=(k==='b'||k==='g'||k==='r'||k==='m');
  return {borderColor:COL[k],backgroundColor:COL[k],borderWidth:dotted?1.3:2,
    borderDash:dotted?[1.6,1.6]:[],order:dotted?1:(k==='k'?2:3),
    showLine:true,pointRadius:0,pointHoverRadius:0,tension:0.25,fill:false};
}

function panelPlugin(P){
  return {id:'panelDeco',afterDraw(chart){
    const ctx=chart.ctx,a=chart.chartArea,sx=chart.scales.x,sy=chart.scales.y;
    ctx.save();
    ctx.setLineDash([]);
    ctx.globalAlpha=1;
    ctx.globalCompositeOperation='source-over';
    // frame and ticks drawn as filled rectangles
    ctx.fillStyle='#000000';
    const Lx=Math.round(a.left),Rx=Math.round(a.right),Ty=Math.round(a.top),By=Math.round(a.bottom);
    ctx.fillRect(Lx,Ty,Rx-Lx,1);
    ctx.fillRect(Lx,By-1,Rx-Lx,1);
    ctx.fillRect(Lx,Ty,1,By-Ty);
    ctx.fillRect(Rx-1,Ty,1,By-Ty);
    const [x0,x1,xM,xm]=P.xt;
    const nx=Math.round((x1-x0)/xm);
    for(let i=0;i<=nx;i++){
      const v=x0+i*xm, maj=Math.abs(v/xM-Math.round(v/xM))<1e-6, tl=maj?8:4;
      let px=Math.round(sx.getPixelForValue(v));
      if(px>=Rx) px=Rx-1;
      ctx.fillRect(px,By-tl,1,tl);
      ctx.fillRect(px,Ty,1,tl);
    }
    const [y0,y1,yM,ym]=yTicks;
    const ny=Math.round((y1-y0)/ym);
    for(let i=0;i<=ny;i++){
      const v=y0+i*ym, maj=Math.abs(v/yM-Math.round(v/yM))<1e-6, tl=maj?8:4;
      let py=Math.round(sy.getPixelForValue(v));
      if(py>=By) py=By-1;
      ctx.fillRect(Lx,py,tl,1);
      ctx.fillRect(Rx-tl,py,tl,1);
    }
    // plain text labels
    ctx.fillStyle='#000';ctx.textBaseline='middle';ctx.textAlign='left';
    ctx.font='15px '+FONT;
    P.T.forEach(t=>ctx.fillText(t[0],sx.getPixelForValue(t[1]),sy.getPixelForValue(t[2])));
    // omega labels
    P.W.forEach(w=>{
      const px=sx.getPixelForValue(w[2]),py=sy.getPixelForValue(w[3]);
      ctx.fillStyle=COL[w[1]];ctx.textBaseline='alphabetic';
      ctx.font='16px '+FONT;ctx.fillText('ω',px,py+4);
      const ww=ctx.measureText('ω').width;
      ctx.font='11px '+FONT;ctx.fillText(w[0],px+ww,py+8);
    });
    // arrows
    P.A.forEach(r=>{
      const xa=sx.getPixelForValue(r[1]),ya=sy.getPixelForValue(r[2]);
      const xb=sx.getPixelForValue(r[3]),yb=sy.getPixelForValue(r[4]);
      ctx.strokeStyle=COL[r[0]];ctx.fillStyle=COL[r[0]];ctx.lineWidth=1.3;
      ctx.beginPath();ctx.moveTo(xa,ya);ctx.lineTo(xb,yb);ctx.stroke();
      const ang=Math.atan2(yb-ya,xb-xa),h=7;
      ctx.beginPath();ctx.moveTo(xb,yb);
      ctx.lineTo(xb-h*Math.cos(ang-0.4),yb-h*Math.sin(ang-0.4));
      ctx.lineTo(xb-h*Math.cos(ang+0.4),yb-h*Math.sin(ang+0.4));
      ctx.closePath();ctx.fill();
    });
    // axis titles
    ctx.fillStyle='#000';ctx.textBaseline='alphabetic';ctx.textAlign='left';
    const cx=(a.left+a.right)/2;
    if(P.xl==='rho'){
      ctx.font='15px '+FONT;
      const s1='ρ(fm',s3=')';
      const w1=ctx.measureText(s1).width,w3=ctx.measureText(s3).width;
      ctx.font='10px '+FONT;const w2=ctx.measureText('-3').width;
      const x=cx-(w1+w2+w3)/2, yb=a.bottom+36;
      ctx.font='15px '+FONT;ctx.fillText(s1,x,yb);
      ctx.font='10px '+FONT;ctx.fillText('-3',x+w1,yb-6);
      ctx.font='15px '+FONT;ctx.fillText(s3,x+w1+w2,yb);
    } else {
      ctx.font='15px '+FONT;const w1=ctx.measureText('y').width;
      const x=cx-(w1+6)/2, yb=a.bottom+27;
      ctx.fillText('y',x,yb);
      ctx.font='10px '+FONT;ctx.fillText('p',x+w1,yb+4);
    }
    ctx.save();
    ctx.translate(a.left-25,(a.top+a.bottom)/2);ctx.rotate(-Math.PI/2);
    ctx.font='15px '+FONT;ctx.textAlign='center';ctx.fillText('ω(MeV)',0,0);
    ctx.restore();
    ctx.restore();
  }};
}

const padL=48,padT=14,padR=16,padB=46;
PANELS.forEach(P=>{
  const [L,T,R,B]=P.box;
  const W=R-L+padL+padR,H=B-T+padT+padB;
  const c=document.createElement('canvas');
  c.width=W;c.height=H;c.style.left=(L-padL)+'px';c.style.top=(T-padT)+'px';
  c.style.width=W+'px';c.style.height=H+'px';
  document.body.appendChild(c);
  const [x0,x1,xM]=P.xt;
  new Chart(c,{
    type:'scatter',
    data:{datasets:P.S.map(s=>Object.assign({data:s[1].map(p=>({x:p[0],y:p[1]}))},styleFor(s[0])))},
    options:{
      responsive:false,animation:false,devicePixelRatio:1,
      layout:{padding:{left:0,top:padT,right:padR,bottom:0}},
      plugins:{legend:{display:false},tooltip:{enabled:false}},
      events:[],
      scales:{
        x:{type:'linear',min:x0,max:x1,grid:{display:false,drawTicks:false},border:{display:false},
          ticks:{stepSize:xM,color:'#000',font:{family:FONT,size:15},padding:5,maxRotation:0,autoSkip:false,
            callback:v=>(P.hide!==undefined&&Math.abs(v-P.hide)<1e-9)?'':String(+(+v).toFixed(3))},
          afterFit(s){s.height=padB;s.paddingLeft=0;s.paddingRight=0;}},
        y:{type:'linear',min:yTicks[0],max:yTicks[1],grid:{display:false,drawTicks:false},border:{display:false},
          ticks:{stepSize:yTicks[2],color:'#000',font:{family:FONT,size:15},padding:4,autoSkip:false},
          afterFit(s){s.width=padL;s.paddingTop=0;s.paddingBottom=0;}}
      }
    },
    plugins:[panelPlugin(P)]
  });
});
</script>
</body></html>
